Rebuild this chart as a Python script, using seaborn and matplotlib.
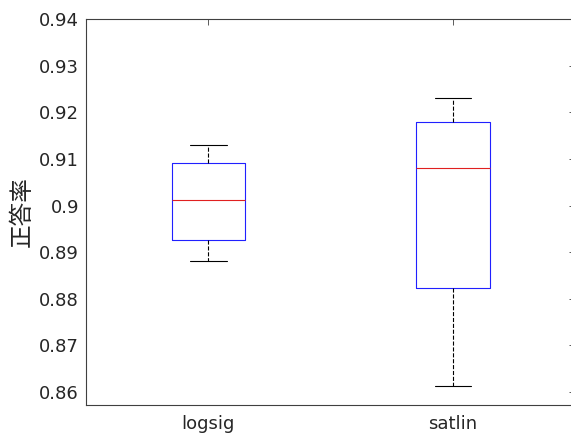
import pandas as pd
import numpy as np
import matplotlib
matplotlib.use("Agg")
import matplotlib.pyplot as plt
import seaborn as sns

# five-number summaries: min, q1, median, q3, max
logsig = [0.8881, 0.8926, 0.9011, 0.9091, 0.9130]
satlin = [0.8613, 0.8822, 0.9080, 0.9180, 0.9230]
categories = ["logsig", "satlin"]
yticks = [0.86, 0.87, 0.88, 0.89, 0.90, 0.91, 0.92, 0.93, 0.94]
ytick_labels = ["0.86", "0.87", "0.88", "0.89", "0.9", "0.91", "0.92", "0.93", "0.94"]
ylabel = "正答率"


def main():
    df = pd.DataFrame({
        "func": [categories[0]] * len(logsig) + [categories[1]] * len(satlin),
        "acc": logsig + satlin,
    })

    sns.set_style("white")
    plt.rcParams["font.family"] = ["DejaVu Sans", "Noto Sans CJK JP"]

    fig = plt.figure(figsize=(5.71, 4.34), dpi=100)
    ax = fig.add_axes([0.1506, 0.0668, 0.857, 0.8892])

    sns.boxplot(data=df, x="func", y="acc", order=categories, ax=ax,
                width=0.3, fill=False, showfliers=False, whis=1.5,
                linewidth=0.8,
                boxprops=dict(color="#2020ff"),
                medianprops=dict(color="#e02020"),
                whiskerprops=dict(color="black", linestyle="--"),
                capprops=dict(color="black"))

    ax.set_xlim(-0.5, 1.5)
    ax.set_ylim(0.8572, 0.94)
    ax.set_yticks(yticks)
    ax.set_yticklabels(ytick_labels)
    ax.set_xlabel("")
    ax.set_ylabel(ylabel, fontsize=17, labelpad=4, family=["Noto Sans CJK JP"])
    ax.tick_params(direction="in", length=4, width=0.6, labelsize=13,
                   top=True, right=True, colors="#404040", labelcolor="#262626")
    ax.tick_params(axis="y", pad=5)
    ax.tick_params(axis="x", pad=7)
    for s in ax.spines.values():
        s.set_color("#404040")
        s.set_linewidth(0.8)

    fig.savefig("out.png", dpi=100)


if __name__ == "__main__":
    main()
